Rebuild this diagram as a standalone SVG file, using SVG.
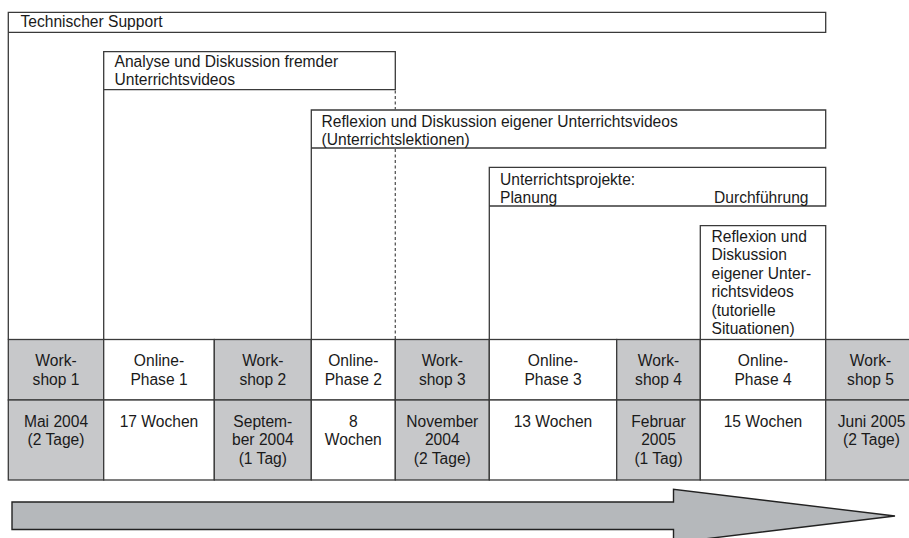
<svg xmlns="http://www.w3.org/2000/svg" width="909" height="538" viewBox="0 0 909 538">
<style>
text{font-family:"Liberation Sans",Arial,sans-serif;font-size:15.6px;fill:#1a1a1a}
.c{text-anchor:middle}
.r{text-anchor:end}
.ln{fill:none;stroke:#3a3a3a;stroke-width:1.3}
.ws{fill:#c7c8ca;stroke:#3a3a3a;stroke-width:1.3}
.on{fill:#ffffff;stroke:#3a3a3a;stroke-width:1.3}
.dash{fill:none;stroke:#555;stroke-width:1.3;stroke-dasharray:3 2.5}
</style>
<rect width="909" height="538" fill="#ffffff"/>

<g id="technischer-support">
<path class="ln" d="M8.3,339.5 V12.3 H825.7 V32.3 H8.3"/>
<text x="20.5" y="27">Technischer Support</text>
</g>

<g id="analyse">
<path class="ln" d="M103.7,339.5 V51.7 H395.3 V89.7 H103.7"/>
<text x="114.5" y="66.5">Analyse und Diskussion fremder</text>
<text x="114.5" y="85">Unterrichtsvideos</text>
</g>

<g id="reflexion-eigene">
<path class="ln" d="M311.3,339.5 V110 H825.7 V148 H311.3"/>
<text x="321.5" y="126.5">Reflexion und Diskussion eigener Unterrichtsvideos</text>
<text x="321.5" y="144.5">(Unterrichtslektionen)</text>
</g>

<g id="unterrichtsprojekte">
<path class="ln" d="M489.3,339.5 V167.3 H825.7 V206 H489.3"/>
<text x="500" y="184.5">Unterrichtsprojekte:</text>
<text x="500" y="202.5">Planung</text>
<text class="r" x="808.5" y="202.5">Durchführung</text>
</g>

<g id="reflexion-tutoriell">
<path class="ln" d="M700.3,339.5 V225.7 H825.7 V339.5"/>
<text x="711.5" y="241.5">Reflexion und</text>
<text x="711.5" y="260">Diskussion</text>
<text x="711.5" y="278.5">eigener Unter-</text>
<text x="711.5" y="297">richtsvideos</text>
<text x="711.5" y="315.5">(tutorielle</text>
<text x="711.5" y="334">Situationen)</text>
</g>

<g id="connectors">
<line class="dash" x1="395.3" y1="90.5" x2="395.3" y2="109.5"/>
<line class="dash" x1="395.3" y1="149" x2="395.3" y2="339"/>
</g>

<g id="workshop-1">
<rect class="ws" x="8.3" y="339.5" width="95.4" height="60.5"/>
<rect class="ws" x="8.3" y="400" width="95.4" height="80"/>
<text class="c" x="56" y="366">Work-</text>
<text class="c" x="56" y="384.5">shop 1</text>
<text class="c" x="56" y="426.5">Mai 2004</text>
<text class="c" x="56" y="445">(2 Tage)</text>
</g>

<g id="online-phase-1">
<rect class="on" x="103.7" y="339.5" width="110.6" height="60.5"/>
<rect class="on" x="103.7" y="400" width="110.6" height="80"/>
<text class="c" x="159" y="366">Online-</text>
<text class="c" x="159" y="384.5">Phase 1</text>
<text class="c" x="159" y="426.5">17 Wochen</text>
</g>

<g id="workshop-2">
<rect class="ws" x="214.3" y="339.5" width="97" height="60.5"/>
<rect class="ws" x="214.3" y="400" width="97" height="80"/>
<text class="c" x="262.8" y="366">Work-</text>
<text class="c" x="262.8" y="384.5">shop 2</text>
<text class="c" x="262.8" y="426.5">Septem-</text>
<text class="c" x="262.8" y="445">ber 2004</text>
<text class="c" x="262.8" y="463.5">(1 Tag)</text>
</g>

<g id="online-phase-2">
<rect class="on" x="311.3" y="339.5" width="84" height="60.5"/>
<rect class="on" x="311.3" y="400" width="84" height="80"/>
<text class="c" x="353.3" y="366">Online-</text>
<text class="c" x="353.3" y="384.5">Phase 2</text>
<text class="c" x="353.3" y="426.5">8</text>
<text class="c" x="353.3" y="445">Wochen</text>
</g>

<g id="workshop-3">
<rect class="ws" x="395.3" y="339.5" width="94" height="60.5"/>
<rect class="ws" x="395.3" y="400" width="94" height="80"/>
<text class="c" x="442.3" y="366">Work-</text>
<text class="c" x="442.3" y="384.5">shop 3</text>
<text class="c" x="442.3" y="426.5">November</text>
<text class="c" x="442.3" y="445">2004</text>
<text class="c" x="442.3" y="463.5">(2 Tage)</text>
</g>

<g id="online-phase-3">
<rect class="on" x="489.3" y="339.5" width="127.4" height="60.5"/>
<rect class="on" x="489.3" y="400" width="127.4" height="80"/>
<text class="c" x="553" y="366">Online-</text>
<text class="c" x="553" y="384.5">Phase 3</text>
<text class="c" x="553" y="426.5">13 Wochen</text>
</g>

<g id="workshop-4">
<rect class="ws" x="616.7" y="339.5" width="83.6" height="60.5"/>
<rect class="ws" x="616.7" y="400" width="83.6" height="80"/>
<text class="c" x="658.5" y="366">Work-</text>
<text class="c" x="658.5" y="384.5">shop 4</text>
<text class="c" x="658.5" y="426.5">Februar</text>
<text class="c" x="658.5" y="445">2005</text>
<text class="c" x="658.5" y="463.5">(1 Tag)</text>
</g>

<g id="online-phase-4">
<rect class="on" x="700.3" y="339.5" width="125.4" height="60.5"/>
<rect class="on" x="700.3" y="400" width="125.4" height="80"/>
<text class="c" x="763" y="366">Online-</text>
<text class="c" x="763" y="384.5">Phase 4</text>
<text class="c" x="763" y="426.5">15 Wochen</text>
</g>

<g id="workshop-5">
<rect class="ws" x="825.7" y="339.5" width="95" height="60.5"/>
<rect class="ws" x="825.7" y="400" width="95" height="80"/>
<text class="c" x="870.5" y="366">Work-</text>
<text class="c" x="870.5" y="384.5">shop 5</text>
<text class="c" x="871.5" y="426.5">Juni 2005</text>
<text class="c" x="871.5" y="445">(2 Tage)</text>
</g>

<g id="zeitpfeil">
<polygon points="12,502 673.5,502 673.5,489.3 895,516 673.5,542.7 673.5,529.5 12,529.5" fill="#b5b8bb" stroke="#222" stroke-width="1.4" stroke-linejoin="miter"/>
</g>
</svg>
